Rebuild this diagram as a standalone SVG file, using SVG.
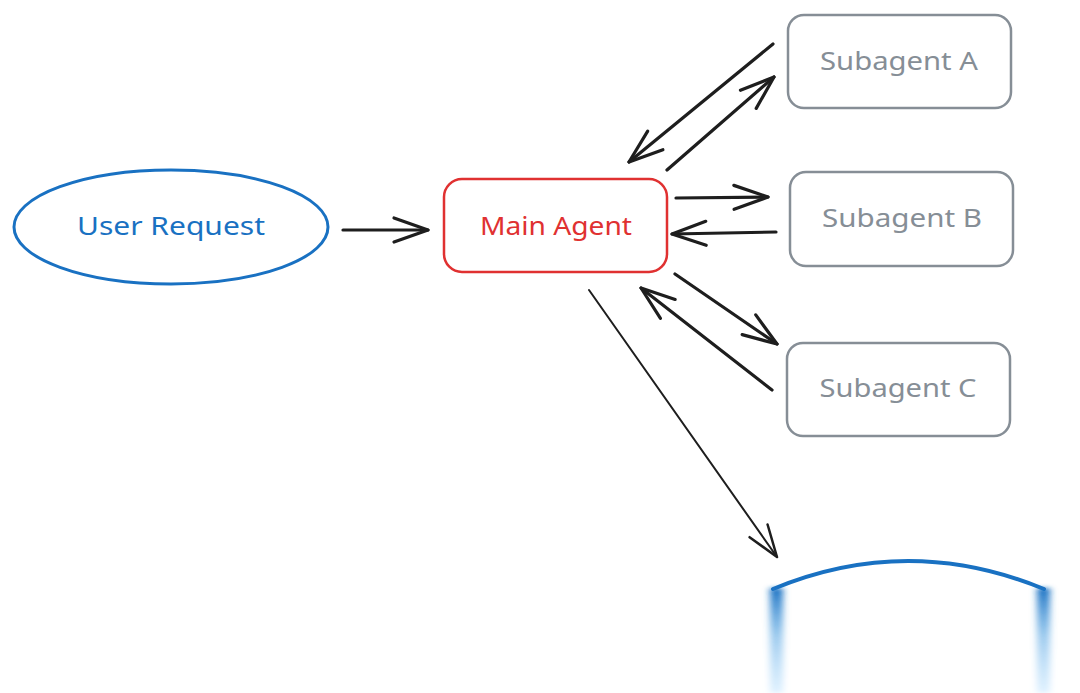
<svg xmlns="http://www.w3.org/2000/svg" width="1080" height="693" viewBox="0 0 1080 693">
<style>
.lbl{font-family:"Noto Sans","Liberation Sans",sans-serif;font-size:25px;text-anchor:middle;dominant-baseline:central}
.conn{fill:none;stroke:#1e1e1e;stroke-width:3.2;stroke-linecap:round}
.thin{stroke-width:2}
.sub rect{fill:#fff;stroke:#868e96;stroke-width:2.5}
.sub text{fill:#868e96}
</style>
<defs>
<marker id="ah" markerUnits="userSpaceOnUse" markerWidth="40" markerHeight="30" viewBox="-36 -15 40 30" refX="0" refY="0" orient="auto" overflow="visible">
<path d="M-34 -12 L0 0 L-34 12" fill="none" stroke="#1e1e1e" stroke-width="3.2" stroke-linecap="round" stroke-linejoin="round"/>
</marker>
<marker id="ahs" markerUnits="userSpaceOnUse" markerWidth="40" markerHeight="30" viewBox="-36 -15 40 30" refX="0" refY="0" orient="auto" overflow="visible">
<path d="M-32 -11 L0 0 L-32 11" fill="none" stroke="#1e1e1e" stroke-width="2.5" stroke-linecap="round" stroke-linejoin="round"/>
</marker>
<linearGradient id="fade" x1="0" y1="0" x2="0" y2="1">
<stop offset="0" stop-color="#1971c2" stop-opacity="1"/>
<stop offset="0.45" stop-color="#4a9ee0" stop-opacity="0.55"/>
<stop offset="1" stop-color="#a5d8ff" stop-opacity="0.35"/>
</linearGradient>
<filter id="blur" x="-1.5" y="-0.2" width="4" height="1.4"><feGaussianBlur stdDeviation="3.5 2"/></filter>
</defs>
<rect width="1080" height="693" fill="#fff"/>

<g id="user-request">
<ellipse cx="171" cy="227" rx="157" ry="57" fill="none" stroke="#1971c2" stroke-width="3"/>
<text class="lbl" x="171" y="225" fill="#1971c2" textLength="188" lengthAdjust="spacingAndGlyphs">User Request</text>
</g>

<g id="main-agent">
<rect x="444" y="179" width="223" height="93" rx="18" fill="#fff" stroke="#e03131" stroke-width="2.5"/>
<text class="lbl" x="556" y="225" fill="#e03131" textLength="152" lengthAdjust="spacingAndGlyphs">Main Agent</text>
</g>

<g id="subagent-a" class="sub">
<rect x="788" y="15" width="223" height="93" rx="16"/>
<text class="lbl" x="899" y="60" textLength="158" lengthAdjust="spacingAndGlyphs">Subagent A</text>
</g>

<g id="subagent-b" class="sub">
<rect x="790" y="172" width="223" height="94" rx="16"/>
<text class="lbl" x="902" y="217" textLength="160" lengthAdjust="spacingAndGlyphs">Subagent B</text>
</g>

<g id="subagent-c" class="sub">
<rect x="787" y="343" width="223" height="93" rx="16"/>
<text class="lbl" x="898" y="387" textLength="157" lengthAdjust="spacingAndGlyphs">Subagent C</text>
</g>

<g id="partial-node">
<path d="M773 589 Q908 533 1044 589" fill="none" stroke="#1971c2" stroke-width="4" stroke-linecap="round"/>
<rect x="770" y="588" width="13" height="105" fill="url(#fade)" filter="url(#blur)"/>
<rect x="1037" y="588" width="13" height="105" fill="url(#fade)" filter="url(#blur)"/>
</g>

<g id="connectors">
<path class="conn" d="M343 230 L428 230" marker-end="url(#ah)"/>
<path class="conn" d="M773 44 L629 162" marker-end="url(#ah)"/>
<path class="conn" d="M667 170 L774 77" marker-end="url(#ah)"/>
<path class="conn" d="M676 198 L768 197" marker-end="url(#ah)"/>
<path class="conn" d="M776 232 L672 234" marker-end="url(#ah)"/>
<path class="conn" d="M675 274 L777 344" marker-end="url(#ah)"/>
<path class="conn" d="M772 390 L641 288" marker-end="url(#ah)"/>
<path class="conn thin" d="M589 290 L777 557" marker-end="url(#ahs)"/>
</g>
</svg>
